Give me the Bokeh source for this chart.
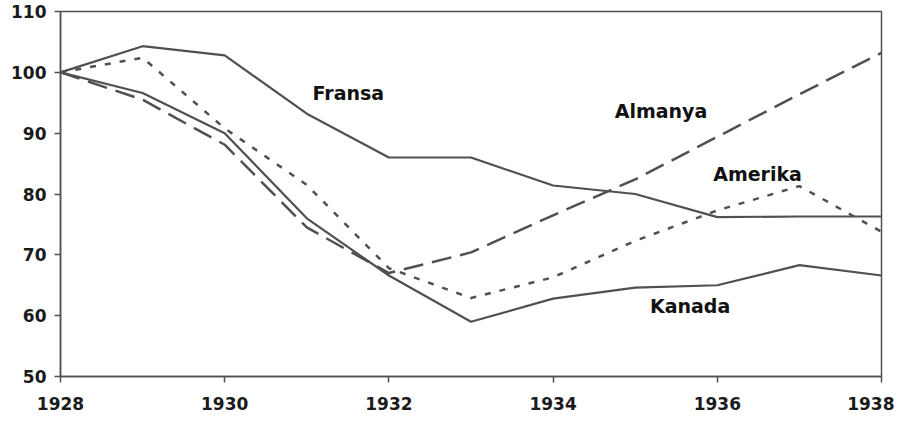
from bokeh.plotting import figure
from bokeh.models import FixedTicker, Label
from bokeh.embed import file_html
from bokeh.resources import INLINE

years = [1928, 1929, 1930, 1931, 1932, 1933, 1934, 1935, 1936, 1937, 1938]
fransa = [100, 104.3, 102.8, 93.2, 86.0, 86.0, 81.4, 80.0, 76.2, 76.3, 76.3]
amerika = [100, 102.4, 90.8, 81.5, 67.8, 62.9, 66.3, 72.3, 77.3, 81.3, 73.8]
almanya = [100, 95.5, 88.1, 74.5, 67.0, 70.4, 76.5, 82.4, 89.4, 96.4, 103.2]
kanada = [100, 96.6, 90.0, 76.0, 66.6, 59.0, 62.8, 64.6, 65.0, 68.3, 66.6]

y_ticks = [50, 60, 70, 80, 90, 100, 110]
x_ticks = [1928, 1930, 1932, 1934, 1936, 1938]

series_labels = ["Fransa", "Almanya", "Amerika", "Kanada"]

FONT = "DejaVu Sans"
LINE_COLOR = "#505050"

p = figure(width=894, height=417, output_backend="svg", toolbar_location=None,
           x_range=(1928, 1938), y_range=(50, 110),
           min_border_left=60, min_border_right=13, min_border_top=11, min_border_bottom=41)
p.background_fill_color = "white"
p.border_fill_color = "white"
p.grid.visible = False
p.outline_line_color = LINE_COLOR
p.outline_line_width = 1.5

for ax in (p.xaxis[0], p.yaxis[0]):
    ax.axis_line_color = LINE_COLOR
    ax.axis_line_width = 1.5
    ax.major_tick_line_color = LINE_COLOR
    ax.major_tick_line_width = 1.5
    ax.major_tick_in = 0
    ax.major_tick_out = 6
    ax.minor_tick_line_color = None
    ax.major_label_text_font = FONT
    ax.major_label_text_font_style = "bold"
    ax.major_label_text_color = "#1a1a1a"

p.yaxis.ticker = FixedTicker(ticks=y_ticks)
p.xaxis.ticker = FixedTicker(ticks=x_ticks)
p.yaxis.major_label_text_font_size = "17px"
p.xaxis.major_label_text_font_size = "17px"
p.yaxis.major_label_standoff = 8
p.xaxis.major_label_standoff = 14

p.line(years, fransa, line_color=LINE_COLOR, line_width=2.2)
p.line(years, kanada, line_color=LINE_COLOR, line_width=2.2)
p.line(years, amerika, line_color=LINE_COLOR, line_width=2.5, line_dash="6 9")
p.line(years, almanya, line_color=LINE_COLOR, line_width=2.5, line_dash="20 9")

label_pos = {"Fransa": (1931.07, 96.6), "Almanya": (1934.75, 93.6),
             "Amerika": (1935.95, 83.3), "Kanada": (1935.18, 61.6)}
for name in series_labels:
    x, y = label_pos[name]
    p.add_layout(Label(x=x, y=y, text=name, text_font=FONT, text_font_style="bold",
                       text_font_size="19px", text_color="#111111", text_baseline="middle",
                       text_align="left"))

open("out.html", "w").write(file_html(p, INLINE))
